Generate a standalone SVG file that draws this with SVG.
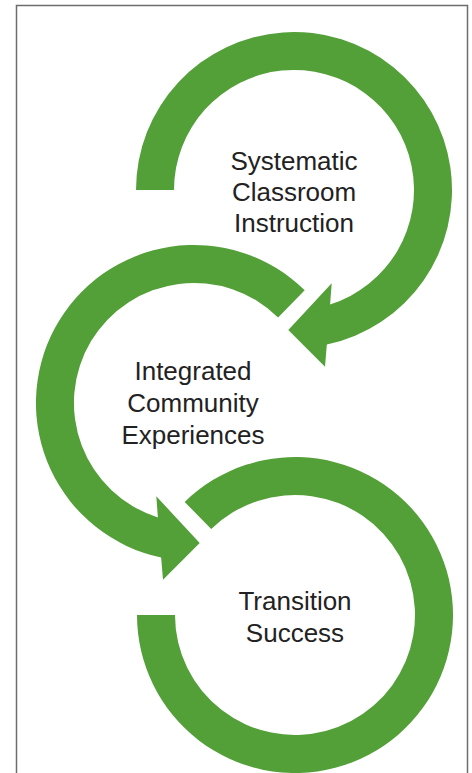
<svg xmlns="http://www.w3.org/2000/svg" width="472" height="773" viewBox="0 0 472 773">
  <style>
    .arrow { fill: #539F38; stroke: none; }
    .label { font-family: "Liberation Sans", Arial, sans-serif; font-size: 26px; fill: #222222; text-anchor: middle; }
    .frame { fill: none; stroke: #6d6d6d; stroke-width: 1.5; }
  </style>
  <rect x="0" y="0" width="472" height="773" fill="#ffffff"/>
  <path class="frame" d="M16.5,773 V5.5 H467.5 V773"/>
  <g id="connectors">
    <path id="arrow-1" class="arrow" d="M136,190 A158,158 0 1 1 326.85,344.55 L325,366.7 L288.3,330 L331.7,283.3 L330.1,304.4 A120,120 0 1 0 174,190 Z"/>
    <path id="arrow-2" class="arrow" d="M304.7,290.3 A158,158 0 1 0 161.15,557.55 L163,579.7 L199.7,543 L156.3,496.3 L157.9,517.4 A120,120 0 1 1 278.1,317.4 Z"/>
    <path id="arrow-3" class="arrow" d="M137,615 A158,158 0 1 0 184.7,501.9 L211.2,529.1 A120,120 0 1 1 175,615 Z"/>
  </g>
  <g id="node-systematic">
    <text class="label" x="294" y="169.5">Systematic</text>
    <text class="label" x="294" y="200.5">Classroom</text>
    <text class="label" x="294" y="231.5">Instruction</text>
  </g>
  <g id="node-integrated">
    <text class="label" x="193" y="379.5">Integrated</text>
    <text class="label" x="193" y="411.5">Community</text>
    <text class="label" x="193" y="443.5">Experiences</text>
  </g>
  <g id="node-transition">
    <text class="label" x="295" y="609.5">Transition</text>
    <text class="label" x="295" y="641.5">Success</text>
  </g>
</svg>
